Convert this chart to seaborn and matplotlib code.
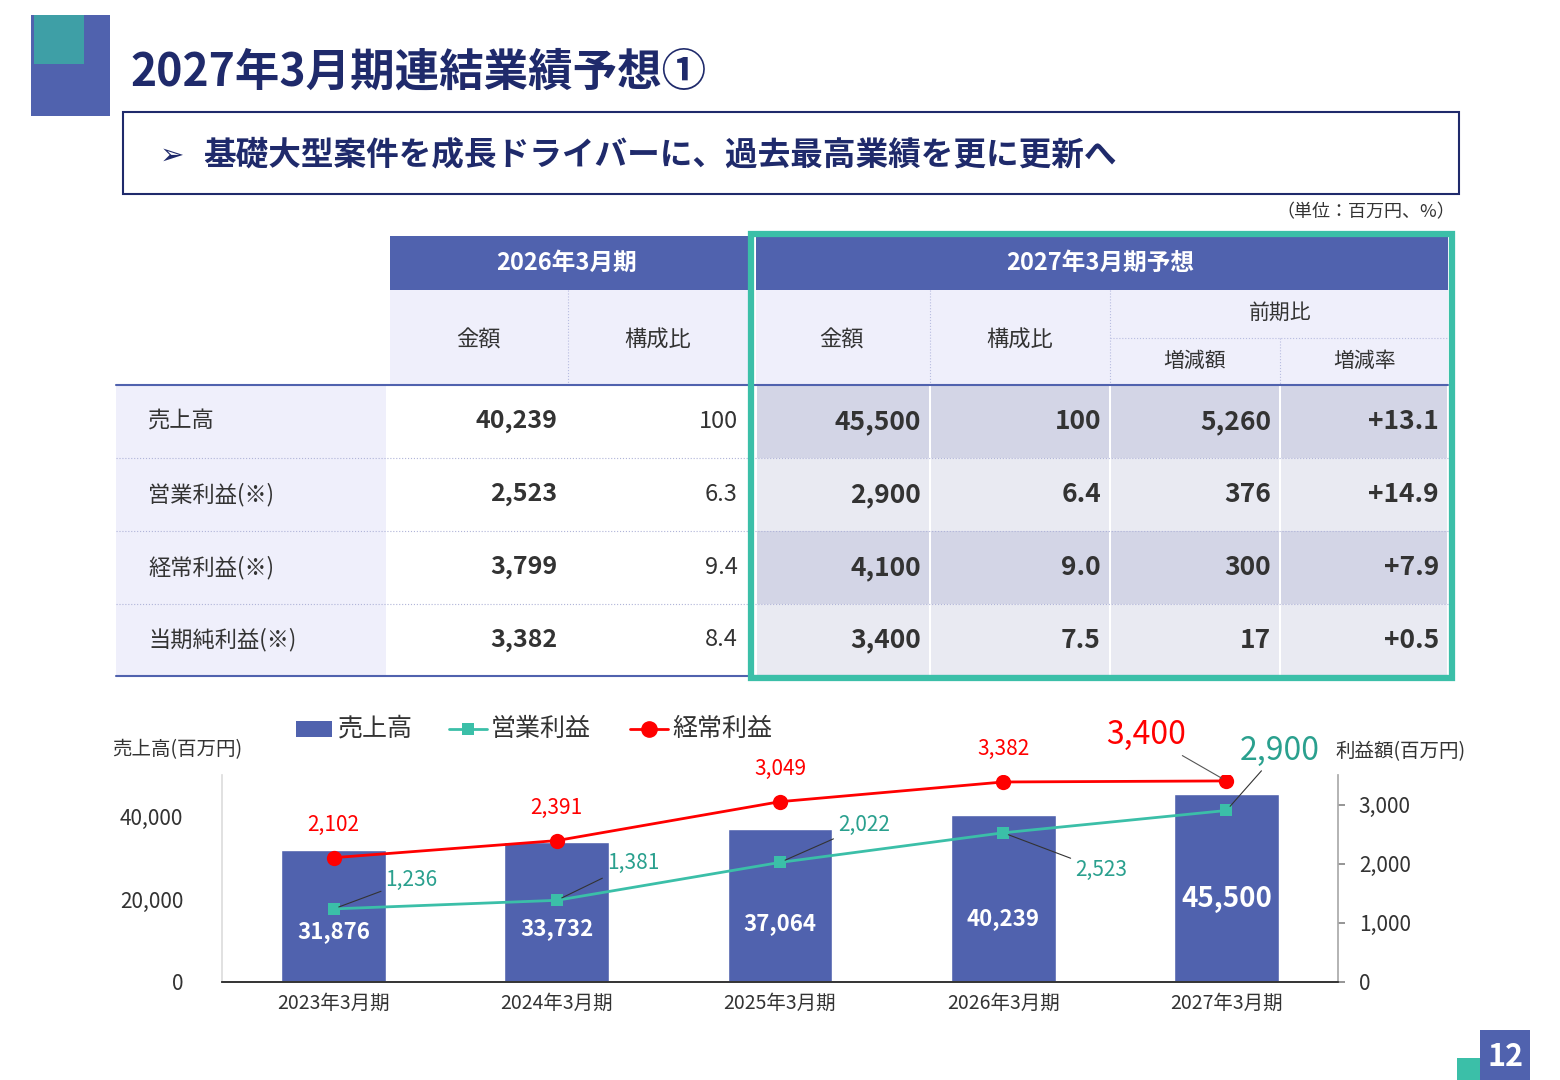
import matplotlib
matplotlib.use('Agg')
import matplotlib.pyplot as plt
from matplotlib.patches import Rectangle
from matplotlib.lines import Line2D
import seaborn as sns
import pandas as pd

sns.set_theme(style='white')
plt.rcParams['font.family'] = ['Noto Sans CJK JP', 'DejaVu Sans']

# data
periods = ['2023年3月期', '2024年3月期', '2025年3月期', '2026年3月期', '2027年3月期']
sales = [31876, 33732, 37064, 40239, 45500]
op_profit = [1236, 1381, 2022, 2523, 2900]
ord_profit = [2102, 2391, 3049, 3382, 3400]

row_labels = ['売上高', '営業利益(※)', '経常利益(※)', '当期純利益(※)']
amt_2026 = ['40,239', '2,523', '3,799', '3,382']
ratio_2026 = ['100', '6.3', '9.4', '8.4']
amt_2027 = ['45,500', '2,900', '4,100', '3,400']
ratio_2027 = ['100', '6.4', '9.0', '7.5']
diff_2027 = ['5,260', '376', '300', '17']
rate_2027 = ['+13.1', '+14.9', '+7.9', '+0.5']

NAVY = '#1F2A6B'
BLUE = '#5062AE'
TEAL = '#3BBFA8'
RED = '#FF0000'
LAV = '#EFEFFB'

W, H = 1560, 1080
fig = plt.figure(figsize=(15.6, 10.8), dpi=100)


def P(x, y):
    return x / W, 1 - y / H


def rect(x0, y0, x1, y1, fc='none', ec='none', lw=0, z=1, ls='-'):
    fig.patches.append(Rectangle(P(x0, y1), (x1 - x0) / W, (y1 - y0) / H, fc=fc, ec=ec,
                                 lw=lw, ls=ls, transform=fig.transFigure, zorder=z))


def hline(x0, x1, y, color, lw=1, ls='-', z=3):
    fig.lines.append(Line2D([x0 / W, x1 / W], [1 - y / H] * 2, color=color, lw=lw, ls=ls,
                            transform=fig.transFigure, zorder=z))


def vline(x, y0, y1, color, lw=1, ls='-', z=3):
    fig.lines.append(Line2D([x / W] * 2, [1 - y0 / H, 1 - y1 / H], color=color, lw=lw, ls=ls,
                            transform=fig.transFigure, zorder=z))


def txt(x, y, s, size=14, color='#333333', ha='center', weight='normal', **kw):
    fig.text(*P(x, y), s, fontsize=size, color=color, ha=ha, va='center', weight=weight, **kw)


# header decorations
rect(31, 15, 110, 116, fc=BLUE)
rect(34, 15, 84, 64, fc='#3E9FA6', z=2)
txt(130, 73, '2027年3月期連結業績予想①', size=32, color=NAVY, ha='left', weight='bold')
rect(123, 112, 1459, 194, fc='white', ec=NAVY, lw=1.5)
txt(160, 155, '➢', size=21, color=NAVY, ha='left', weight='bold')
txt(203, 155, '基礎大型案件を成長ドライバーに、過去最高業績を更に更新へ', size=23.5, color=NAVY,
    ha='left', weight='bold')
txt(1455, 212, '（単位：百万円、%）', size=13, ha='right')

# table
rect(390, 236, 748, 290, fc=BLUE)
rect(756, 236, 1448, 290, fc=BLUE)
txt(567, 263, '2026年3月期', size=17, color='white', weight='bold')
txt(1100, 263, '2027年3月期予想', size=17, color='white', weight='bold')
rect(390, 290, 748, 385, fc=LAV)
rect(756, 290, 1448, 385, fc=LAV)
vline(568, 290, 385, '#B8BCE0', lw=0.8, ls=':')
vline(930, 290, 385, '#B8BCE0', lw=0.8, ls=':')
vline(1110, 290, 385, '#B8BCE0', lw=0.8, ls=':')
vline(1280, 338, 385, '#B8BCE0', lw=0.8, ls=':')
hline(1110, 1448, 338, '#B8BCE0', lw=0.8, ls=':')
txt(478, 340, '金額', size=16)
txt(658, 340, '構成比', size=16)
txt(841, 340, '金額', size=16)
txt(1020, 340, '構成比', size=16)
txt(1280, 313, '前期比', size=15)
txt(1195, 361, '増減額', size=15)
txt(1365, 361, '増減率', size=15)

row_y = [385, 458, 531, 604, 676]
col_x = [756, 930, 1110, 1280, 1448]
for i, lab in enumerate(row_labels):
    y0, y1 = row_y[i], row_y[i + 1]
    yc = (y0 + y1) / 2
    rect(116, y0, 386, y1, fc=LAV)
    fc = '#D3D5E6' if i % 2 == 0 else '#E9EAF2'
    for j in range(4):
        rect(col_x[j] + 1, y0, col_x[j + 1] - 1, y1, fc=fc)
    if i > 0:
        hline(116, 1448, y0, '#B0B4D8', lw=0.8, ls=':')
    txt(148, yc, lab, size=16, ha='left')
    txt(557, yc, amt_2026[i], size=18, weight='bold', ha='right')
    txt(738, yc, ratio_2026[i], size=17, ha='right')
    vals = [amt_2027[i], ratio_2027[i], diff_2027[i], rate_2027[i]]
    for j, v in enumerate(vals):
        txt(col_x[j + 1] - 9, yc, v, size=19, weight='bold', ha='right')
hline(116, 1448, 385, BLUE, lw=1.5)
hline(116, 1448, 676, BLUE, lw=1.5)
rect(751, 234, 1452, 678, ec=TEAL, lw=4.5, z=5)

# chart
df = pd.DataFrame({'period': periods, 'sales': sales, 'op': op_profit, 'ord': ord_profit,
                   'idx': range(len(periods))})
ax = fig.add_axes([222 / W, 1 - 982 / H, 1116 / W, 207 / H])
sns.barplot(data=df, x='period', y='sales', color=BLUE, saturation=1, width=0.47, ax=ax)
ax.set_ylim(0, 50000)
ax.set_xlim(-0.5, 4.5)
ax.set_yticks([0, 20000, 40000])
ax.set_yticklabels(['0', '20,000', '40,000'])
ax.set_xlabel('')
ax.set_ylabel('')
ax.tick_params(axis='y', labelsize=15, labelcolor='#333333', pad=28, length=0)
ax.tick_params(axis='x', labelsize=14, labelcolor='#333333', pad=8, length=0)
for s in ['top', 'right']:
    ax.spines[s].set_visible(False)
ax.spines['left'].set_color('#DDDDDD')
ax.spines['bottom'].set_color('#AAAAAA')
for i, v in enumerate(sales):
    big = i == len(sales) - 1
    ax.text(i, v * (0.44 if big else 0.38), f'{v:,}', ha='center', va='center', color='white',
            weight='bold', fontsize=20 if big else 16)

ax2 = ax.twinx()
sns.lineplot(data=df, x='idx', y='op', color=TEAL, marker='s', markersize=9, lw=2,
             markeredgewidth=0, ax=ax2)
sns.lineplot(data=df, x='idx', y='ord', color=RED, marker='o', markersize=11, lw=2,
             markeredgewidth=0, ax=ax2)
ax2.set_ylim(0, 3500)
ax2.set_xlim(-0.5, 4.5)
ax2.set_yticks([0, 1000, 2000, 3000])
ax2.set_yticklabels(['0', '1,000', '2,000', '3,000'])
ax2.set_ylabel('')
ax2.tick_params(axis='y', labelsize=15, labelcolor='#333333', right=True, length=5,
                color='#888888', pad=10)
ax2.grid(False)
for s in ['top', 'left']:
    ax2.spines[s].set_visible(False)
ax2.spines['right'].set_color('#AAAAAA')

# red labels
for i, v in enumerate(ord_profit[:-1]):
    ax2.annotate(f'{v:,}', (i, v), xytext=(0, 33), textcoords='offset pixels', ha='center',
                 va='center', color=RED, fontsize=15)
ax2.annotate(f'{ord_profit[-1]:,}', (4, ord_profit[-1]), xytext=(-80, 46),
             textcoords='offset pixels', ha='center', va='center', color=RED, fontsize=23,
             arrowprops=dict(arrowstyle='-', color='#555555', lw=0.8, shrinkA=2, shrinkB=4))
# teal labels
teal_off = [(52, 29), (50, 37), (58, 37), (72, -37)]
for i, v in enumerate(op_profit[:-1]):
    ax2.annotate(f'{v:,}', (i, v), xytext=teal_off[i], textcoords='offset pixels',
                 ha='left', va='center', color='#2AA08E', fontsize=15,
                 arrowprops=dict(arrowstyle='-', color='#333333', lw=0.8, shrinkA=1, shrinkB=4))
ax2.annotate(f'{op_profit[-1]:,}', (4, op_profit[-1]), xytext=(53, 60), textcoords='offset pixels',
             ha='center', va='center', color='#2AA08E', fontsize=23,
             arrowprops=dict(arrowstyle='-', color='#333333', lw=0.8, shrinkA=1, shrinkB=4))

# legend and axis titles
rect(296, 721, 332, 737, fc=BLUE)
txt(338, 729, '売上高', size=18, ha='left')
hline(449, 487, 729, TEAL, lw=2)
rect(462, 723, 474, 735, fc=TEAL)
txt(491, 729, '営業利益', size=18, ha='left')
hline(630, 668, 729, RED, lw=2)
fig.lines.append(Line2D([649 / W], [1 - 729 / H], marker='o', color=RED, ms=11,
                        transform=fig.transFigure))
txt(672, 729, '経常利益', size=18, ha='left')
txt(112, 750, '売上高(百万円)', size=14, ha='left')
txt(1335, 752, '利益額(百万円)', size=14, ha='left')

# page number
rect(1457, 1058, 1480, 1080, fc=TEAL)
rect(1480, 1030, 1530, 1080, fc=BLUE)
txt(1505, 1057, '12', size=22, color='white', weight='bold')

fig.savefig('out.png', dpi=100)
